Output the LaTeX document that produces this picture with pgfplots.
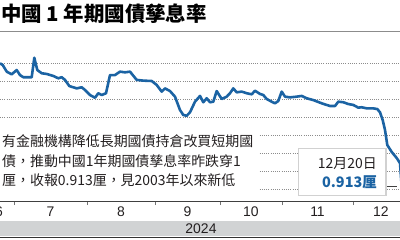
\documentclass[border=0pt]{standalone}
\usepackage{pgfplots}
\pgfplotsset{compat=1.18}
\usepackage{fontspec}
\setmainfont{Liberation Sans}
\newfontfamily\cjk{Noto Sans CJK TC}
\definecolor{lineblue}{RGB}{27,99,163}
\definecolor{gridgray}{RGB}{140,140,140}
\definecolor{bandgray}{RGB}{209,211,212}
\definecolor{txt}{RGB}{35,31,32}
\pgfplotstableread{
x y
0 1.598
2.7 1.589
6.7 1.552
11.7 1.537
16.7 1.561
20 1.533
23.3 1.521
31.7 1.521
34.3 1.629
37.3 1.561
41.7 1.543
46.7 1.539
53.3 1.528
58.3 1.515
61.7 1.521
65 1.506
69.3 1.472
76.7 1.459
81.7 1.465
85 1.450
90 1.422
95 1.407
98.3 1.432
101.7 1.422
106 1.432
110 1.533
115 1.533
120 1.552
125 1.548
130 1.552
136.7 1.506
143.3 1.502
151.7 1.500
156.7 1.478
161.7 1.441
165 1.459
170 1.444
175 1.413
180 1.339
183.3 1.311
186.7 1.307
190 1.326
195 1.385
200 1.417
203.3 1.382
206.7 1.404
210 1.382
213.3 1.385
216.7 1.444
221.7 1.400
226.7 1.413
230 1.432
233.3 1.459
236.7 1.437
241.7 1.441
246.7 1.432
251.7 1.426
255 1.446
260 1.428
263.3 1.422
266.7 1.400
271.7 1.385
275 1.376
278.3 1.389
281.7 1.441
285 1.413
290 1.409
296.7 1.413
301.7 1.417
306.7 1.404
313.3 1.394
321.7 1.376
330 1.361
335 1.361
338.3 1.385
343.3 1.382
348.3 1.372
353.3 1.367
358.3 1.352
361.7 1.354
366.7 1.348
373.3 1.348
377.3 1.344
380 1.326
382.7 1.283
385 1.228
387.3 1.144
391.7 1.106
396.7 1.072
400 1.044
401.7 0.913
}\yielddata
\begin{document}
\begin{tikzpicture}[x=1bp,y=1bp]
\useasboundingbox (0bp,0bp) rectangle (400bp,240bp);
\clip (0bp,0bp) rectangle (400bp,240bp);
\begin{axis}[
  at={(0bp,39bp)}, anchor=south west, scale only axis,
  width=400bp, height=169bp,
  xmin=0, xmax=400, ymin=0.833333, ymax=1.772222,
  axis x line*=bottom, axis y line*=left,
  x axis line style={draw=black!75, line width=1bp, -},
  y axis line style={draw=none},
  xtick={14,87,155,220,282,353}, xticklabels={},
  xtick style={draw=black!55, line width=0.9bp},
  tick align=outside, major tick length=4bp,
  extra x ticks={50.5,121,187.5,251,317.5,381},
  extra x tick labels={7,8,9,10,11,12},
  extra x tick style={major tick length=0pt, tick style={draw=none}, grid=none},
  xticklabel style={font=\fontsize{14}{14}\selectfont, text=txt, yshift=-2bp},
  ytick={0.9,1,1.1,1.2,1.3,1.4,1.5,1.6}, yticklabels={}, ytick style={draw=none},
  ymajorgrids, grid style={gridgray, line width=0.8bp, dash pattern=on 0.8bp off 1.4bp},
  /pgf/number format/assume math mode=true,
]
\addplot[lineblue, line width=2.6bp, line join=round] table[x=x,y=y]{\yielddata};
\draw[black!75, line width=0.9bp] (axis cs:385,0.913) -- (axis cs:396.7,0.913);
\addplot[only marks, mark=*, mark size=4.8bp, mark options={fill=white, draw=black!75, line width=1bp}] coordinates {(401.7,0.913)};
\end{axis}
% month label partly cut at left
\node[font=\fontsize{14}{14}\selectfont, text=txt, anchor=base] at (-1bp,23.5bp) {6};
% title
\node[anchor=base west, inner sep=0pt, font=\cjk\bfseries\fontsize{20.5}{20.5}\selectfont, text=black] at (1bp,218.5bp) {中國 1 年期國債孳息率};
\draw[black!45, line width=1.2bp] (0bp,208.3bp) -- (400bp,208.3bp);
% annotation text box
\fill[white] (0bp,42bp) rectangle (259bp,115bp);
\begin{scope}[every node/.style={anchor=base west, inner sep=0pt, font=\cjk\fontsize{14}{14}\selectfont, text=txt}]
\node at (2bp,93bp) {有金融機構降低長期國債持倉改買短期國};
\node at (2bp,73bp) {債，推動中國1年期國債孳息率昨跌穿1};
\node at (2bp,54bp) {厘，收報0.913厘，見2003年以來新低};
\end{scope}
% callout
\fill[black!18] (298bp,44bp) rectangle (386.5bp,91.5bp);
\fill[white] (299bp,45bp) rectangle (385bp,91bp);
\node[anchor=base east, inner sep=0pt, font=\cjk\fontsize{14}{14}\selectfont, text=txt] at (377bp,71.5bp) {12月20日};
\node[anchor=base east, inner sep=0pt, font=\cjk\bfseries\fontsize{14.5}{14.5}\selectfont, text=lineblue] at (377bp,52.5bp) {0.913厘};
% year band
\fill[bandgray] (0bp,4bp) rectangle (400bp,19bp);
\node[font=\fontsize{14}{14}\selectfont, text=txt, anchor=base] at (201bp,6.5bp) {2024};
\draw[black!80, line width=1.2bp] (0bp,2.2bp) -- (400bp,2.2bp);
\end{tikzpicture}
\end{document}
